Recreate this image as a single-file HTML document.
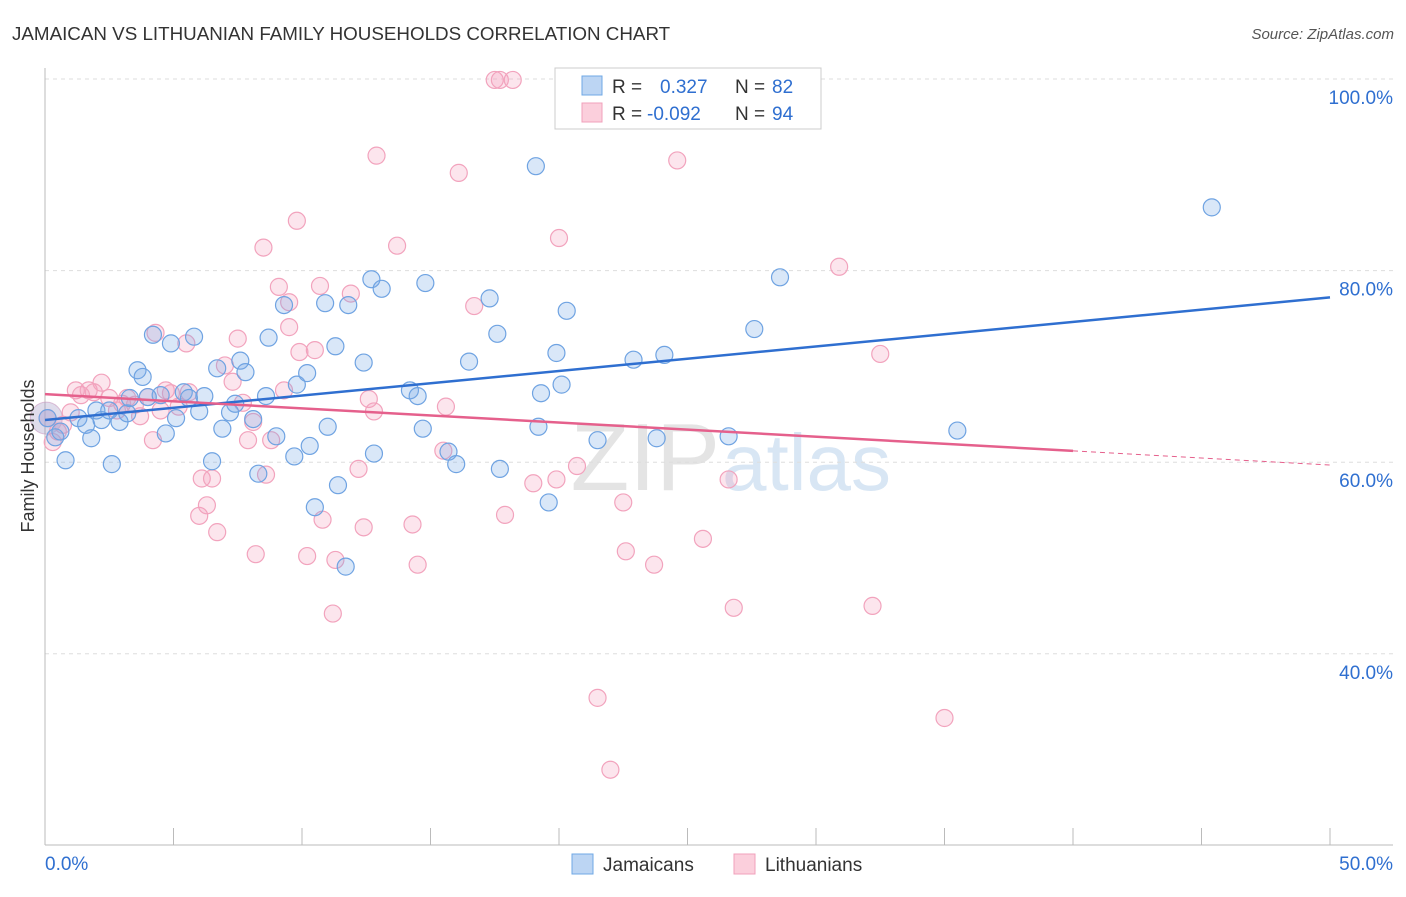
<!DOCTYPE html>
<html><head><meta charset="utf-8">
<style>
body{margin:0;background:#fff;font-family:"Liberation Sans",sans-serif;}
svg text{font-family:"Liberation Sans",sans-serif;}
</style></head>
<body>
<svg id="chart" width="1406" height="892" xmlns="http://www.w3.org/2000/svg">
<text x="12" y="40" font-size="18.8" fill="#333">JAMAICAN VS LITHUANIAN FAMILY HOUSEHOLDS CORRELATION CHART</text>
<text x="1394" y="39" font-size="15" fill="#555" text-anchor="end" font-style="italic">Source: ZipAtlas.com</text>
<text x="720" y="490" font-size="96" fill="#e4e4e4" text-anchor="end" font-family="Liberation Serif">ZIP</text>
<text x="722" y="490" font-size="80" fill="#d8e6f4">atlas</text>
<g id="grid"></g>
<g id="axes"></g>
<g id="pts"></g>
<g id="trend"></g>
<text transform="translate(34,456) rotate(-90)" font-size="18" fill="#333" text-anchor="middle">Family Households</text>
<g>
<rect x="555" y="68" width="266" height="61" fill="#fff" stroke="#ccc"/>
<rect x="582" y="76" width="20" height="19" fill="#bcd5f3" stroke="#6fa8e6"/>
<rect x="582" y="103" width="20" height="19" fill="#fbcfdc" stroke="#f0a0bb"/>
<text x="612" y="93" font-size="19" fill="#333">R = </text><text x="660" y="93" font-size="19" fill="#2f6fd0">0.327</text>
<text x="735" y="93" font-size="19" fill="#333">N = </text><text x="772" y="93" font-size="19" fill="#2f6fd0">82</text>
<text x="612" y="120" font-size="19" fill="#333">R = </text><text x="647" y="120" font-size="19" fill="#2f6fd0">-0.092</text>
<text x="735" y="120" font-size="19" fill="#333">N = </text><text x="772" y="120" font-size="19" fill="#2f6fd0">94</text>
</g>
<g>
<rect x="572" y="854" width="21" height="20" fill="#bcd5f3" stroke="#6fa8e6"/>
<text x="603" y="871" font-size="19" fill="#333">Jamaicans</text>
<rect x="734" y="854" width="21" height="20" fill="#fbcfdc" stroke="#f0a0bb"/>
<text x="765" y="871" font-size="19" fill="#333">Lithuanians</text>
</g>
</svg>
<script>
const blueX=[0.1,0.4,0.6,0.8,1.3,1.6,1.8,2.0,2.2,2.5,2.6,2.9,3.2,3.3,3.6,3.8,4.0,4.2,4.5,4.7,4.9,5.1,5.4,5.6,5.8,6.0,6.2,6.5,6.7,6.9,7.2,7.4,7.6,7.8,8.1,8.3,8.6,8.7,9.0,9.3,9.8,9.7,10.2,10.3,10.5,10.9,11.0,11.3,11.4,11.7,11.8,12.4,12.7,12.8,13.1,14.2,14.5,14.7,14.8,15.7,16.0,16.5,17.3,17.6,17.7,19.1,19.2,19.3,19.6,19.9,20.1,20.3,21.5,22.9,23.8,24.1,26.6,27.6,28.6,35.5,45.4];
const blueY=[64.6,62.6,63.2,60.2,64.6,63.9,62.5,65.4,64.4,65.4,59.8,64.2,65.1,66.7,69.6,68.9,66.8,73.3,67.0,63.0,72.4,64.6,67.3,66.7,73.1,65.3,66.9,60.1,69.8,63.5,65.2,66.1,70.6,69.4,64.5,58.8,66.9,73.0,62.7,76.4,68.1,60.6,69.3,61.7,55.3,76.6,63.7,72.1,57.6,49.1,76.4,70.4,79.1,60.9,78.1,67.5,66.9,63.5,78.7,61.1,59.8,70.5,77.1,73.4,59.3,90.9,63.7,67.2,55.8,71.4,68.1,75.8,62.3,70.7,62.5,71.2,62.7,73.9,79.3,63.3,86.6];
const pinkX=[0.1,0.3,0.5,0.7,1.0,1.2,1.4,1.7,1.9,2.2,2.5,2.8,3.0,3.2,3.5,3.7,4.0,4.2,4.3,4.5,4.7,4.9,5.2,5.5,5.6,6.0,6.1,6.3,6.5,6.7,7.0,7.3,7.5,7.7,7.9,8.1,8.2,8.5,8.6,8.8,9.1,9.3,9.5,9.5,9.8,9.9,10.2,10.5,10.7,10.8,11.2,11.3,11.9,12.2,12.4,12.6,12.8,12.9,13.7,14.3,14.5,15.6,15.5,16.1,16.7,17.5,17.7,18.2,17.9,19.0,19.9,20.0,20.7,21.5,22.0,22.5,22.6,23.7,24.6,25.6,26.6,26.8,30.9,32.2,32.5,35.0];
const pinkY=[64.6,62.1,63.2,63.9,65.2,67.5,67.0,67.5,67.3,68.3,66.7,65.4,66.1,66.7,66.0,64.8,66.8,62.3,73.5,65.4,67.5,67.2,65.8,72.4,67.3,54.4,58.3,55.5,58.3,52.7,70.1,68.4,72.9,66.2,62.3,64.2,50.4,82.4,58.7,62.3,78.3,67.5,74.1,76.7,85.2,71.5,50.2,71.7,78.4,54.0,44.2,49.8,77.6,59.3,53.2,66.6,65.3,92.0,82.6,53.5,49.3,65.8,61.2,90.2,76.3,99.9,99.9,99.9,54.5,57.8,58.2,83.4,59.6,35.4,27.9,55.8,50.7,49.3,91.5,52.0,58.2,44.8,80.4,45.0,71.3,33.3];
const yTicks=[100,80,60,40];
const blueTrend=[64.4,77.2];
const pinkTrend=[67.1,59.7];
const NS='http://www.w3.org/2000/svg';
const X0=45,X1=1330,Y100=79,PX=(X1-X0)/50,PY=9.58;
const sx=v=>X0+v*PX, sy=v=>Y100+(100-v)*PY;
function mk(t,a,p){const e=document.createElementNS(NS,t);for(const k in a)e.setAttribute(k,a[k]);p.appendChild(e);return e;}
const grid=document.getElementById('grid'),axes=document.getElementById('axes');
yTicks.forEach(v=>{
 const l=mk('line',{x1:X0,x2:1393,y1:sy(v),y2:sy(v),stroke:'#ddd','stroke-dasharray':'4,4'},grid);
 
 
 const t=mk('text',{x:1393,y:sy(v)+25,'font-size':19,fill:'#2f6fd0','text-anchor':'end'},axes);
 t.textContent=v.toFixed(1)+'%';
 
 
});
mk('line',{x1:X0,x2:X0,y1:68,y2:845,stroke:'#bbb'},axes);
mk('line',{x1:X0,x2:1393,y1:845,y2:845,stroke:'#bbb'},axes);
for(let i=0;i<=10;i++){mk('line',{x1:sx(i*5),x2:sx(i*5),y1:828,y2:845,stroke:'#bbb'},axes);}
const xl=mk('text',{x:45,y:870,'font-size':19,fill:'#2f6fd0'},axes);xl.textContent='0.0%';


const xr=mk('text',{x:1393,y:870,'font-size':19,fill:'#2f6fd0','text-anchor':'end'},axes);xr.textContent='50.0%';


const pts=document.getElementById('pts');
mk('circle',{cx:sx(0.05),cy:sy(64.6),r:16,fill:'rgba(150,140,190,0.3)',stroke:'rgba(200,150,190,0.6)'},pts);
pinkX.forEach((x,i)=>{const c=mk('circle',{cx:sx(x),cy:sy(pinkY[i]),r:8.5,fill:'rgba(244,160,190,0.28)',stroke:'#f2a3bd','stroke-width':1.2},pts);
 
 });
blueX.forEach((x,i)=>{const c=mk('circle',{cx:sx(x),cy:sy(blueY[i]),r:8.5,fill:'rgba(120,170,230,0.28)',stroke:'#6fa3e2','stroke-width':1.2},pts);
 
 });
const tr=document.getElementById('trend');
const bl=mk('line',{x1:sx(0),y1:sy(blueTrend[0]),x2:sx(50),y2:sy(blueTrend[1]),stroke:'#2f6fd0','stroke-width':2.5},tr);


const pm=pinkTrend[0]+(pinkTrend[1]-pinkTrend[0])*40/50;
const pl=mk('line',{x1:sx(0),y1:sy(pinkTrend[0]),x2:sx(40),y2:sy(pm),stroke:'#e5608c','stroke-width':2.5},tr);


const pd=mk('line',{x1:sx(40),y1:sy(pm),x2:sx(50),y2:sy(pinkTrend[1]),stroke:'#e5608c','stroke-width':1,'stroke-dasharray':'5,4'},tr);


</script>
</body></html>
